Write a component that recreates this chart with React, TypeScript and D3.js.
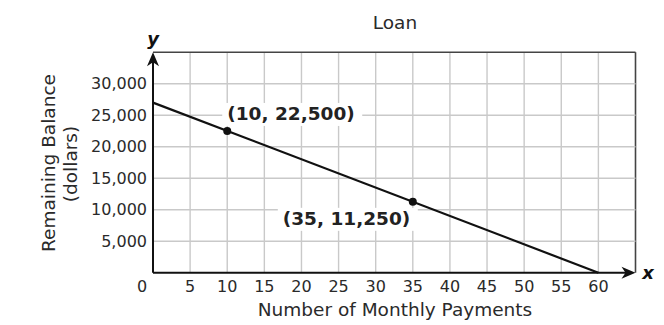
import React from "react";
import * as d3 from "d3";

const title = "Loan";
const xTitle = "Number of Monthly Payments";
const yTitle1 = "Remaining Balance";
const yTitle2 = "(dollars)";
const xTicks = [5, 10, 15, 20, 25, 30, 35, 40, 45, 50, 55, 60];
const yTicks = [5000, 10000, 15000, 20000, 25000, 30000];
const xGrid = [5, 10, 15, 20, 25, 30, 35, 40, 45, 50, 55, 60, 65];
const yGrid = [5000, 10000, 15000, 20000, 25000, 30000, 35000];
const lineX = [0, 60];
const lineY = [27000, 0];
const pointX = [10, 35];
const pointY = [22500, 11250];
const pointLabels = ["(10, 22,500)", "(35, 11,250)"];

const W = 664;
const H = 325;

export default function App() {
  const x = d3.scaleLinear().domain([0, 65]).range([153, 635.5]);
  const y = d3.scaleLinear().domain([0, 35000]).range([272.7, 52.2]);
  const fmt = d3.format(",");
  const font = "'DejaVu Sans', Verdana, sans-serif";
  const textColor = "#2a2a2a";
  const lineGen = d3
    .line<number>()
    .x((_, i) => x(lineX[i]))
    .y((d) => y(d));

  const x0 = x(0);
  const y0 = y(0);
  const xEnd = x(65);
  const yEnd = y(35000);

  // label placement: [dx from point, baseline dy from point]
  const labelOffsets = [
    [0, -11],
    [-130, 23],
  ];

  return (
    <svg
      width={W}
      height={H}
      style={{ position: "absolute", left: 0, top: 0, background: "#fff" }}
      fontFamily={font}
    >
      <rect width={W} height={H} fill="#fff" />
      <text x={395} y={29} textAnchor="middle" fontSize={18.5} fill={textColor}>
        {title}
      </text>
      {/* grid */}
      {xGrid.map((v) => (
        <line
          key={"gx" + v}
          x1={x(v)}
          x2={x(v)}
          y1={y0}
          y2={yEnd}
          stroke={v === 65 ? "#444" : "#c9c9c9"}
          strokeWidth={v === 65 ? 1.6 : 1.4}
        />
      ))}
      {yGrid.map((v) => (
        <line
          key={"gy" + v}
          x1={x0}
          x2={xEnd}
          y1={y(v)}
          y2={y(v)}
          stroke={v === 35000 ? "#444" : "#c9c9c9"}
          strokeWidth={v === 35000 ? 1.6 : 1.4}
        />
      ))}
      {/* label backgrounds */}
      {pointX.map((px, i) => {
        const lx = x(px) + labelOffsets[i][0];
        const ly = y(pointY[i]) + labelOffsets[i][1];
        return (
          <rect
            key={"bg" + i}
            x={lx - 5}
            y={ly - 17}
            width={140}
            height={23}
            fill="#fff"
          />
        );
      })}
      {/* axes */}
      <line x1={x0} x2={xEnd - 8} y1={y0} y2={y0} stroke="#111" strokeWidth={2} />
      <line x1={x0} x2={x0} y1={y0} y2={yEnd + 8} stroke="#111" strokeWidth={2} />
      <path
        d={`M${xEnd},${y0} L${xEnd - 14},${y0 - 6} L${xEnd - 10},${y0} L${xEnd - 14},${y0 + 6} Z`}
        fill="#111"
      />
      <path
        d={`M${x0},${yEnd} L${x0 - 6},${yEnd + 14} L${x0},${yEnd + 10} L${x0 + 6},${yEnd + 14} Z`}
        fill="#111"
      />
      <text
        x={x0}
        y={45}
        textAnchor="middle"
        fontSize={18}
        fontWeight="bold"
        fontStyle="italic"
        fill="#111"
      >
        y
      </text>
      <text
        x={648}
        y={y0 + 6}
        textAnchor="middle"
        fontSize={18}
        fontWeight="bold"
        fontStyle="italic"
        fill="#111"
      >
        x
      </text>
      {/* ticks */}
      {xTicks.map((v) => (
        <text
          key={"tx" + v}
          x={x(v)}
          y={292}
          textAnchor="middle"
          fontSize={16}
          fill={textColor}
        >
          {v}
        </text>
      ))}
      <text x={142} y={292} textAnchor="middle" fontSize={16} fill={textColor}>
        0
      </text>
      {yTicks.map((v) => (
        <text
          key={"ty" + v}
          x={147}
          y={y(v)}
          dy="0.36em"
          textAnchor="end"
          fontSize={16}
          fill={textColor}
        >
          {fmt(v)}
        </text>
      ))}
      {/* axis titles */}
      <text x={395} y={316} textAnchor="middle" fontSize={18.5} fill={textColor}>
        {xTitle}
      </text>
      <text
        transform={`translate(55,163) rotate(-90)`}
        textAnchor="middle"
        fontSize={18.5}
        fill={textColor}
      >
        {yTitle1}
      </text>
      <text
        transform={`translate(77,164) rotate(-90)`}
        textAnchor="middle"
        fontSize={18.5}
        fill={textColor}
      >
        {yTitle2}
      </text>
      {/* line */}
      <path d={lineGen(lineY) || ""} fill="none" stroke="#111" strokeWidth={2.2} />
      {pointX.map((px, i) => (
        <circle key={"pt" + i} cx={x(px)} cy={y(pointY[i])} r={4} fill="#111" />
      ))}
      {pointX.map((px, i) => (
        <text
          key={"lb" + i}
          x={x(px) + labelOffsets[i][0]}
          y={y(pointY[i]) + labelOffsets[i][1]}
          fontSize={18.5}
          fontWeight="bold"
          fill="#222"
        >
          {pointLabels[i]}
        </text>
      ))}
    </svg>
  );
}
